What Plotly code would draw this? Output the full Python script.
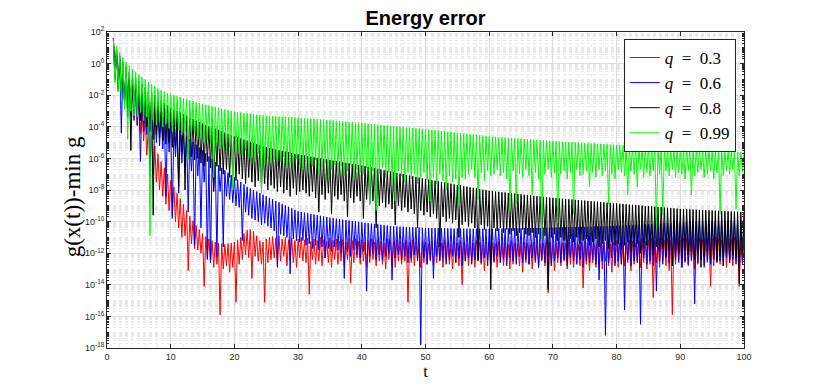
import plotly.graph_objects as go

# Zeitraster: Spitzen bei t = 1, 1.5, ..., 100, Täler jeweils dazwischen
t_start = 1.0
t_step = 0.5

# log10-Werte der Spitzen (Maxima) und Täler (Minima)
red_peaks = [
    1.60, 0.70, 0.10, -0.30, -0.70, -1.00, -1.30, -1.80, -2.30, -2.80,
    -3.30, -4.00, -4.60, -5.20, -5.70, -6.20, -6.60, -7.00, -7.40, -7.80,
    -8.20, -8.55, -8.90, -9.30, -9.65, -9.95, -10.25, -10.50, -10.75, -10.95,
    -11.10, -11.20, -11.30, -11.35, -11.40, -11.45, -11.40, -11.35, -11.30, -11.15,
    -11.00, -10.75, -10.55, -10.50, -10.60, -10.90, -11.20, -11.30, -11.10, -11.00,
    -10.95, -11.05, -10.90, -11.10, -11.00, -11.15, -11.05, -11.20, -11.10, -11.00,
    -11.15, -11.05, -11.25, -11.10, -11.20, -11.00, -11.15, -11.25, -11.05, -11.20,
    -11.10, -11.25, -11.15, -11.30, -11.05, -11.20, -11.10, -11.25, -11.15, -11.30,
    -11.20, -11.10, -11.30, -11.15, -11.25, -11.35, -11.10, -11.20, -11.30, -11.15,
    -11.25, -11.35, -11.20, -11.30, -11.15, -11.25, -11.35, -11.20, -11.30, -11.40,
    -11.25, -11.15, -11.30, -11.35, -11.20, -11.30, -11.40, -11.25, -11.35, -11.20,
    -11.30, -11.40, -11.25, -11.35, -11.20, -11.30, -11.45, -11.30, -11.25, -11.35,
    -11.40, -11.25, -11.35, -11.30, -11.45, -11.20, -11.35, -11.40, -11.25, -11.30,
    -11.35, -11.45, -11.30, -11.25, -11.40, -11.35, -11.20, -11.30, -11.45, -11.35,
    -11.25, -11.35, -11.40, -11.30, -11.20, -11.35, -11.45, -11.30, -11.25, -11.35,
    -11.30, -11.40, -11.20, -11.35, -11.30, -11.25, -11.40, -11.30, -11.20, -11.35,
    -11.25, -11.30, -11.15, -11.25, -11.35, -11.20, -11.10, -11.25, -11.15, -11.05,
    -11.20, -11.10, -11.00, -11.15, -11.05, -11.20, -11.00, -11.10, -11.15, -11.05,
    -11.00, -11.10, -11.20, -11.05, -11.00, -11.15, -11.05, -10.95, -11.10, -11.00,
    -11.05, -11.15, -10.95, -11.05, -11.10, -11.00, -11.15, -11.05, -11.00,
]
red_troughs = [
    -0.6, -1.3, -1.8, -2.3, -2.6, -3.0, -3.4, -3.9, -4.4, -4.9,
    -5.8, -6.4, -7.0, -7.5, -8.0, -8.4, -8.9, -9.3, -9.6, -10.0,
    -10.4, -11.0, -10.9, -13.1, -11.4, -11.7, -11.8, -12.0, -14.1, -12.3,
    -12.6, -12.9, -12.7, -15.9, -13.0, -12.8, -13.2, -12.9, -15.1, -12.7,
    -12.4, -12.1, -12.3, -13.6, -12.2, -12.5, -12.7, -15.1, -12.6, -12.4,
    -12.3, -12.7, -12.5, -12.2, -12.8, -12.4, -12.6, -12.9, -12.3, -12.5,
    -12.6, -14.6, -12.4, -12.7, -12.5, -12.8, -12.3, -12.6, -12.9, -12.4,
    -12.7, -12.5, -12.8, -12.4, -13.9, -12.6, -12.3, -12.7, -12.5, -12.9,
    -12.6, -12.4, -12.8, -12.5, -12.7, -13.0, -12.4, -12.6, -12.9, -12.5,
    -12.7, -12.5, -15.1, -12.6, -12.8, -12.4, -12.9, -12.6, -12.7, -12.5,
    -12.8, -12.6, -12.4, -12.9, -12.5, -12.7, -13.0, -12.6, -12.8, -14.0,
    -12.5, -12.8, -12.6, -12.9, -12.4, -12.7, -13.1, -12.5, -12.8, -12.6,
    -12.9, -12.6, -12.8, -12.5, -13.0, -12.7, -12.4, -12.8, -13.2, -12.6,
    -12.7, -13.0, -12.6, -12.9, -12.5, -12.8, -14.5, -12.7, -13.1, -12.6,
    -12.8, -12.5, -13.0, -12.7, -12.9, -12.6, -12.8, -14.2, -12.7, -13.1,
    -12.6, -12.9, -12.7, -13.0, -12.5, -12.8, -13.2, -12.6, -12.9, -12.7,
    -12.8, -12.6, -13.1, -12.7, -12.5, -12.9, -12.6, -13.0, -12.7, -14.8,
    -12.6, -12.9, -12.5, -12.8, -13.1, -15.9, -12.7, -12.4, -12.9, -12.6,
    -12.8, -12.5, -13.0, -12.7, -12.4, -12.9, -12.6, -14.1, -12.8, -12.5,
    -12.7, -12.4, -12.9, -12.6, -12.8, -12.5, -14.1, -12.7,
]

blue_peaks = [
    1.60, 0.90, 0.30, -0.20, -0.60, -1.00, -1.30, -1.60, -1.90, -2.10,
    -2.30, -2.50, -2.65, -2.80, -3.00, -3.20, -3.35, -3.50, -3.70, -3.87,
    -4.05, -4.22, -4.40, -4.58, -4.77, -4.95, -5.13, -5.32, -5.50, -5.68,
    -5.87, -6.05, -6.23, -6.42, -6.60, -6.75, -6.90, -7.05, -7.20, -7.35,
    -7.50, -7.65, -7.80, -7.90, -8.00, -8.10, -8.20, -8.30, -8.40, -8.50,
    -8.59, -8.69, -8.78, -8.88, -8.97, -9.07, -9.16, -9.26, -9.35, -9.39,
    -9.43, -9.47, -9.51, -9.55, -9.59, -9.63, -9.67, -9.71, -9.75, -9.78,
    -9.81, -9.84, -9.87, -9.90, -9.93, -9.96, -9.99, -10.02, -10.05, -10.08,
    -10.10, -10.13, -10.15, -10.18, -10.20, -10.23, -10.25, -10.28, -10.30, -10.31,
    -10.32, -10.33, -10.34, -10.35, -10.36, -10.37, -10.38, -10.39, -10.40, -10.40,
    -10.41, -10.41, -10.42, -10.42, -10.43, -10.43, -10.43, -10.44, -10.44, -10.44,
    -10.44, -10.45, -10.45, -10.45, -10.45, -10.45, -10.45, -10.45, -10.45, -10.45,
    -10.44, -10.44, -10.44, -10.43, -10.43, -10.43, -10.42, -10.42, -10.42, -10.41,
    -10.41, -10.41, -10.40, -10.40, -10.40, -10.39, -10.39, -10.38, -10.38, -10.37,
    -10.37, -10.36, -10.36, -10.35, -10.35, -10.34, -10.34, -10.33, -10.33, -10.32,
    -10.32, -10.31, -10.31, -10.30, -10.30, -10.29, -10.28, -10.27, -10.26, -10.25,
    -10.24, -10.23, -10.22, -10.21, -10.20, -10.19, -10.18, -10.17, -10.16, -10.15,
    -10.14, -10.13, -10.12, -10.11, -10.10, -10.09, -10.08, -10.07, -10.06, -10.05,
    -10.04, -10.03, -10.02, -10.01, -10.00, -9.99, -9.98, -9.97, -9.96, -9.95,
    -9.94, -9.93, -9.93, -9.92, -9.92, -9.91, -9.91, -9.90, -9.90,
]
blue_troughs = [
    -1.0, -1.7, -4.4, -2.6, -3.4, -3.3, -3.6, -3.9, -6.2, -4.3,
    -4.5, -7.2, -4.8, -5.0, -5.2, -5.4, -8.4, -5.6, -9.8, -5.9,
    -8.2, -6.3, -6.5, -9.4, -6.8, -11.5, -7.1, -10.4, -7.5, -12.4,
    -12.6, -7.9, -12.2, -8.1, -11.6, -8.4, -8.6, -8.8, -9.0, -9.1,
    -11.2, -9.4, -9.6, -9.8, -9.9, -10.0, -10.2, -10.1, -10.3, -10.4,
    -10.6, -12.9, -10.8, -10.9, -11.0, -13.3, -11.1, -11.2, -11.3, -11.2,
    -11.5, -11.4, -11.7, -11.5, -11.8, -11.6, -12.3, -11.7, -11.9, -11.6,
    -11.8, -12.0, -13.6, -11.9, -12.2, -11.8, -12.1, -12.3, -11.9, -14.4,
    -12.2, -12.0, -12.4, -12.1, -12.5, -12.2, -12.0, -13.7, -12.3, -12.1,
    -12.4, -12.2, -12.6, -12.3, -12.1, -12.5, -17.8, -12.3, -12.7, -12.4,
    -13.6, -12.2, -12.5, -12.3, -12.7, -12.4, -12.2, -12.6, -12.3, -12.8,
    -12.5, -12.3, -12.7, -12.4, -12.2, -12.6, -12.3, -12.8, -12.4, -12.5,
    -12.2, -12.6, -12.4, -12.8, -12.3, -12.5, -12.7, -12.2, -12.6, -12.4,
    -12.7, -12.3, -12.5, -12.9, -12.4, -12.6, -12.2, -12.8, -12.5, -12.3,
    -12.6, -12.4, -12.8, -12.3, -12.5, -12.7, -12.4, -12.9, -12.5, -12.6,
    -12.4, -12.7, -13.7, -12.5, -17.2, -12.6, -12.3, -12.8, -12.5, -12.7,
    -15.6, -12.4, -12.8, -12.5, -12.6, -16.5, -12.3, -12.7, -12.5, -12.8,
    -14.4, -12.5, -12.7, -12.3, -12.6, -12.8, -12.4, -12.6, -12.9, -12.5,
    -12.7, -12.4, -15.2, -12.6, -12.3, -12.8, -12.5, -12.7, -12.4, -12.6,
    -12.5, -12.8, -12.3, -12.6, -12.4, -12.7, -12.5, -12.6,
]

black_peaks = [
    1.60, 1.00, 0.50, 0.10, -0.20, -0.50, -0.75, -0.95, -1.10, -1.30,
    -1.50, -1.70, -1.85, -2.00, -2.20, -2.35, -2.50, -2.65, -2.80, -2.90,
    -3.00, -3.10, -3.20, -3.30, -3.40, -3.50, -3.60, -3.70, -3.80, -3.88,
    -3.96, -4.04, -4.12, -4.20, -4.28, -4.36, -4.44, -4.52, -4.60, -4.67,
    -4.74, -4.81, -4.88, -4.95, -5.02, -5.09, -5.16, -5.23, -5.30, -5.35,
    -5.39, -5.44, -5.48, -5.53, -5.57, -5.62, -5.66, -5.71, -5.75, -5.79,
    -5.82, -5.86, -5.89, -5.93, -5.96, -6.00, -6.03, -6.07, -6.10, -6.14,
    -6.17, -6.21, -6.24, -6.28, -6.31, -6.35, -6.38, -6.42, -6.45, -6.49,
    -6.53, -6.58, -6.62, -6.66, -6.70, -6.75, -6.79, -6.83, -6.87, -6.92,
    -6.96, -7.00, -7.05, -7.09, -7.13, -7.17, -7.22, -7.26, -7.30, -7.34,
    -7.38, -7.41, -7.45, -7.49, -7.53, -7.56, -7.60, -7.64, -7.68, -7.71,
    -7.75, -7.79, -7.83, -7.86, -7.90, -7.94, -7.98, -8.01, -8.05, -8.07,
    -8.10, -8.12, -8.14, -8.16, -8.19, -8.21, -8.23, -8.25, -8.28, -8.30,
    -8.32, -8.34, -8.37, -8.39, -8.41, -8.43, -8.46, -8.48, -8.50, -8.52,
    -8.53, -8.55, -8.57, -8.59, -8.60, -8.62, -8.64, -8.66, -8.67, -8.69,
    -8.71, -8.73, -8.74, -8.76, -8.78, -8.80, -8.81, -8.83, -8.85, -8.87,
    -8.88, -8.90, -8.92, -8.94, -8.95, -8.97, -8.99, -9.01, -9.02, -9.04,
    -9.06, -9.08, -9.09, -9.11, -9.13, -9.15, -9.16, -9.18, -9.20, -9.21,
    -9.22, -9.23, -9.24, -9.25, -9.26, -9.27, -9.28, -9.29, -9.30, -9.31,
    -9.32, -9.33, -9.34, -9.35, -9.36, -9.37, -9.38, -9.39, -9.40,
]
black_troughs = [
    -0.9, -1.5, -2.0, -2.4, -2.8, -5.5, -3.1, -3.4, -3.6, -3.8,
    -4.0, -4.3, -9.6, -4.5, -4.7, -4.9, -5.1, -5.0, -5.3, -5.4,
    -7.8, -5.6, -8.0, -5.7, -5.9, -6.1, -6.0, -6.3, -6.5, -6.2,
    -6.6, -8.1, -6.5, -6.8, -7.0, -6.7, -7.2, -7.1, -7.4, -7.0,
    -7.3, -7.6, -7.2, -7.5, -7.8, -7.4, -7.9, -7.6, -8.0, -7.7,
    -7.9, -8.1, -7.8, -8.2, -8.0, -8.4, -7.9, -8.3, -8.1, -8.0,
    -8.2, -8.4, -8.1, -8.5, -9.4, -8.3, -8.6, -8.2, -9.5, -8.4,
    -8.6, -8.3, -8.7, -9.7, -8.5, -8.8, -8.4, -8.7, -9.8, -8.6,
    -8.9, -8.7, -10.4, -9.0, -8.8, -9.1, -8.9, -9.2, -10.2, -9.0,
    -9.3, -9.1, -9.4, -9.2, -9.5, -10.4, -9.3, -9.6, -9.4, -9.7,
    -9.5, -9.8, -11.6, -9.7, -10.0, -9.8, -10.1, -9.9, -11.0, -10.2,
    -10.0, -10.3, -10.1, -10.4, -12.5, -10.2, -10.5, -10.3, -14.3, -10.4,
    -10.6, -10.4, -10.7, -10.5, -10.8, -10.6, -10.9, -10.7, -10.5, -10.8,
    -10.9, -10.7, -11.0, -10.8, -11.1, -10.9, -14.3, -11.0, -10.8, -11.2,
    -11.0, -11.2, -12.4, -11.1, -11.3, -11.0, -11.4, -11.2, -11.1, -11.5,
    -11.3, -11.1, -11.6, -11.4, -11.2, -11.7, -11.3, -11.5, -11.4, -11.8,
    -11.5, -11.3, -11.9, -11.6, -11.4, -12.0, -11.7, -11.5, -11.8, -12.1,
    -11.6, -11.9, -11.7, -12.2, -11.8, -12.8, -11.9, -12.0, -12.3, -11.8,
    -12.1, -11.9, -12.4, -12.0, -12.9, -12.2, -11.9, -12.3, -12.1, -12.5,
    -12.2, -12.8, -12.0, -12.4, -12.1, -12.3, -13.9, -12.2,
]

green_peaks = [
    1.60, 1.10, 0.70, 0.40, 0.10, -0.12, -0.35, -0.52, -0.70, -0.85,
    -1.00, -1.15, -1.30, -1.45, -1.58, -1.69, -1.78, -1.87, -1.95, -2.01,
    -2.07, -2.13, -2.20, -2.26, -2.32, -2.38, -2.44, -2.50, -2.55, -2.60,
    -2.65, -2.70, -2.76, -2.80, -2.86, -2.90, -2.95, -3.00, -3.05, -3.08,
    -3.10, -3.13, -3.15, -3.18, -3.20, -3.23, -3.25, -3.28, -3.30, -3.31,
    -3.32, -3.34, -3.35, -3.36, -3.37, -3.38, -3.39, -3.40, -3.42, -3.44,
    -3.45, -3.47, -3.49, -3.50, -3.52, -3.54, -3.55, -3.57, -3.59, -3.60,
    -3.62, -3.64, -3.66, -3.67, -3.69, -3.71, -3.72, -3.74, -3.76, -3.78,
    -3.80, -3.82, -3.84, -3.86, -3.88, -3.90, -3.92, -3.94, -3.96, -3.98,
    -4.00, -4.02, -4.04, -4.06, -4.08, -4.10, -4.11, -4.13, -4.15, -4.17,
    -4.20, -4.22, -4.24, -4.27, -4.29, -4.31, -4.33, -4.36, -4.38, -4.40,
    -4.42, -4.45, -4.47, -4.49, -4.51, -4.53, -4.56, -4.58, -4.60, -4.62,
    -4.63, -4.65, -4.66, -4.68, -4.69, -4.71, -4.72, -4.74, -4.75, -4.77,
    -4.78, -4.80, -4.81, -4.83, -4.84, -4.86, -4.87, -4.89, -4.90, -4.91,
    -4.93, -4.94, -4.95, -4.96, -4.98, -4.99, -5.00, -5.01, -5.03, -5.04,
    -5.05, -5.06, -5.08, -5.09, -5.10, -5.11, -5.13, -5.14, -5.15, -5.16,
    -5.18, -5.19, -5.20, -5.21, -5.23, -5.24, -5.25, -5.26, -5.28, -5.29,
    -5.30, -5.31, -5.33, -5.34, -5.35, -5.36, -5.38, -5.39, -5.40, -5.41,
    -5.42, -5.43, -5.44, -5.45, -5.46, -5.47, -5.48, -5.49, -5.50, -5.51,
    -5.52, -5.53, -5.54, -5.55, -5.56, -5.57, -5.58, -5.59, -5.60,
]
green_troughs = [
    -1.2, -1.8, -2.4, -2.9, -4.8, -3.0, -3.3, -3.4, -3.1, -3.6,
    -3.4, -10.9, -3.6, -3.9, -3.7, -4.0, -3.8, -4.1, -4.3, -4.0,
    -4.2, -4.5, -4.3, -6.1, -4.6, -4.4, -4.8, -4.7, -5.0, -4.8,
    -5.1, -7.2, -5.0, -5.4, -5.2, -5.6, -5.3, -8.0, -5.5, -5.7,
    -5.8, -5.5, -6.0, -5.9, -6.2, -5.7, -8.2, -6.4, -6.0, -6.3,
    -6.1, -6.5, -6.2, -5.9, -6.6, -6.3, -6.8, -6.0, -6.4, -6.7,
    -6.2, -6.9, -6.5, -6.1, -7.0, -6.6, -6.3, -7.2, -6.7, -6.4,
    -6.9, -6.5, -7.1, -6.8, -6.4, -7.3, -6.7, -6.9, -7.0, -6.6,
    -8.9, -6.8, -9.3, -7.0, -6.6, -7.2, -6.9, -7.4, -8.7, -6.8,
    -7.1, -7.5, -6.9, -7.3, -7.0, -7.6, -7.2, -6.9, -7.4, -8.7,
    -7.2, -7.6, -7.0, -7.4, -8.0, -7.1, -7.5, -7.3, -9.0, -7.2,
    -7.3, -7.0, -6.7, -7.2, -8.6, -6.9, -7.4, -6.8, -7.1, -7.0,
    -6.7, -7.1, -6.9, -7.3, -9.3, -6.8, -8.9, -7.0, -7.2, -6.7,
    -7.1, -8.3, -6.9, -7.3, -11.1, -7.0, -6.7, -7.2, -6.9, -10.1,
    -7.0, -6.8, -7.3, -6.9, -9.5, -6.7, -7.1, -7.0, -6.8, -7.8,
    -6.9, -7.2, -6.7, -7.1, -6.8, -8.9, -7.0, -7.3, -6.7, -6.9,
    -7.1, -8.3, -6.8, -7.0, -7.8, -6.7, -7.2, -6.9, -7.1, -6.8,
    -10.3, -7.0, -9.6, -6.8, -7.1, -6.7, -7.2, -6.9, -7.0, -7.3,
    -6.8, -8.3, -7.1, -6.9, -6.7, -7.2, -7.0, -6.8, -7.3, -6.9,
    -9.5, -7.1, -6.8, -7.0, -6.7, -9.2, -7.1, -6.9,
]

labels = ["<i>q</i>&nbsp;&nbsp;=&nbsp;&nbsp;0.3", "<i>q</i>&nbsp;&nbsp;=&nbsp;&nbsp;0.6",
          "<i>q</i>&nbsp;&nbsp;=&nbsp;&nbsp;0.8", "<i>q</i>&nbsp;&nbsp;=&nbsp;&nbsp;0.99"]
colors = ["#ff0000", "#0000ff", "#000000", "#00ff00"]
series = [(red_peaks, red_troughs), (blue_peaks, blue_troughs),
          (black_peaks, black_troughs), (green_peaks, green_troughs)]

y_exponents = list(range(-18, 3, 2))
x_ticks = list(range(0, 101, 10))

fig = go.Figure()

# Kurven als Zickzack Spitze -> Tal -> Spitze aufbauen
for (peaks, troughs), label, color in zip(series, labels, colors):
    xs, ys = [], []
    for i, p in enumerate(peaks):
        xs.append(t_start + i * t_step)
        ys.append(10 ** p)
        if i < len(troughs):
            xs.append(t_start + i * t_step + t_step / 2)
            ys.append(10 ** troughs[i])
    fig.add_trace(go.Scatter(x=xs, y=ys, mode="lines", name=label,
                             line=dict(color=color, width=1)))

axis_color = "#262626"
tick_font = dict(family="Liberation Sans, Arial, sans-serif", size=9, color=axis_color)
serif = "Liberation Serif, Times New Roman, serif"

fig.update_layout(
    width=822, height=391,
    margin=dict(l=107, r=78, t=32, b=43),
    plot_bgcolor="white", paper_bgcolor="white",
    title=dict(text="<b>Energy error</b>", x=0.5, xref="paper", xanchor="center",
               y=0.955, yref="container", yanchor="middle",
               font=dict(family="Liberation Sans, Arial, sans-serif", size=20, color="black")),
    legend=dict(x=0.987, y=0.978, xanchor="right", yanchor="top",
                bgcolor="white", bordercolor=axis_color, borderwidth=1,
                font=dict(family=serif, size=17, color="black"),
                itemwidth=30, tracegroupgap=0),
    showlegend=True,
)

# y-Achsenbeschriftung als Annotation, damit sie wie im Original etwas tiefer sitzt
fig.add_annotation(text="g(x(t))-min g", xref="paper", yref="paper",
                   x=-0.055, y=0.48, xanchor="center", yanchor="middle",
                   textangle=-90, showarrow=False,
                   font=dict(family=serif, size=23, color="black"))

fig.update_xaxes(
    range=[0, 100], tickvals=x_ticks, ticktext=[str(v) for v in x_ticks],
    ticks="inside", ticklen=4, tickcolor=axis_color, tickfont=tick_font,
    showline=True, linecolor=axis_color, linewidth=1, mirror="ticks",
    showgrid=True, gridcolor="#dedede", gridwidth=1, zeroline=False, automargin=False,
    minor=dict(dtick=2, showgrid=True, gridcolor="#f0f0f0", griddash="dot", ticks=""),
    title=dict(text="t", standoff=2, font=dict(family=serif, size=17, color="black")),
)

fig.update_yaxes(
    type="log", range=[-18, 2],
    tickvals=[10 ** e for e in y_exponents],
    ticktext=["10<sup>%d</sup>" % e for e in y_exponents],
    ticks="inside", ticklen=4, tickcolor=axis_color, tickfont=tick_font,
    showline=True, linecolor=axis_color, linewidth=1, mirror="ticks",
    showgrid=True, gridcolor="#dedede", gridwidth=1, zeroline=False, automargin=False,
    minor=dict(dtick="D1", showgrid=True, gridcolor="#e8e8e8", griddash="dot",
               ticks="inside", ticklen=2, tickcolor=axis_color),
)

# Standard-Seitenrand des Browsers entfernen, damit die Figur bei (0,0) beginnt
fig.write_html("out.html", config={"displayModeBar": False},
               post_script="document.body.style.margin='0';")
